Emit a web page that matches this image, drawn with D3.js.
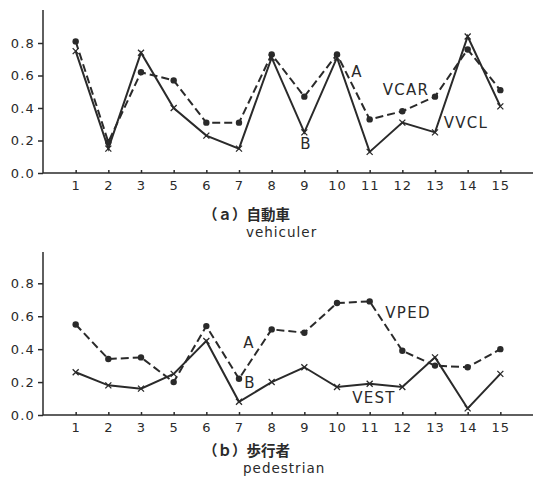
<!DOCTYPE html>
<html>
<head>
<meta charset="utf-8">
<script src="https://cdn.jsdelivr.net/npm/d3@7/dist/d3.min.js"></script>
<style>
  html, body { margin: 0; padding: 0; background: #ffffff; }
  svg text { font-family: "DejaVu Sans", "Liberation Sans", sans-serif; fill: #2a2a2a; }
  .jp { font-family: "Noto Sans CJK JP", sans-serif; font-weight: 700; }
</style>
</head>
<body>
<svg id="chart" width="537" height="477"></svg>
<script>
// Route numbers along the x axis (no route 4)
const categories = ["1", "2", "3", "5", "6", "7", "8", "9", "10", "11", "12", "13", "14", "15"];
const yTicks = [0.0, 0.2, 0.4, 0.6, 0.8];

// (a) vehicles
const vcar = [0.81, 0.19, 0.62, 0.57, 0.31, 0.31, 0.73, 0.47, 0.73, 0.33, 0.38, 0.47, 0.76, 0.51];
const vvcl = [0.75, 0.15, 0.74, 0.40, 0.23, 0.15, 0.71, 0.25, 0.71, 0.13, 0.31, 0.25, 0.84, 0.41];

// (b) pedestrians
const vped = [0.55, 0.34, 0.35, 0.20, 0.54, 0.22, 0.52, 0.50, 0.68, 0.69, 0.39, 0.30, 0.29, 0.40];
const vest = [0.26, 0.18, 0.16, 0.25, 0.45, 0.08, 0.20, 0.29, 0.17, 0.19, 0.17, 0.35, 0.04, 0.25];

const ink = "#2a2a2a";
const svg = d3.select("#chart");

const x = d3.scalePoint().domain(categories).range([43, 533]).padding(1);

function panel(cfg) {
  const y = d3.scaleLinear().domain([0, 0.8]).range([cfg.y0, cfg.y08]);
  const g = svg.append("g");

  // y axis
  const ya = g.append("g").attr("transform", "translate(43,0)")
    .call(d3.axisLeft(y).tickValues(yTicks).tickFormat(d3.format(".1f")).tickSize(5).tickPadding(3));
  ya.select(".domain").attr("d", `M0,${cfg.top}V${cfg.y0}`);
  ya.selectAll("line, path").attr("stroke", ink).attr("stroke-width", 1.5);
  ya.selectAll("text").attr("font-size", 13).attr("letter-spacing", 1.2).attr("fill", ink)
    .style("font-family", "DejaVu Sans, sans-serif");

  // x axis
  const xa = g.append("g").attr("transform", `translate(0,${cfg.y0})`)
    .call(d3.axisBottom(x).tickSize(-3).tickPadding(8));
  xa.select(".domain").attr("d", "M43,0H533");
  xa.selectAll("line, path").attr("stroke", ink).attr("stroke-width", 1.5);
  xa.selectAll("text").attr("font-size", 13).attr("letter-spacing", 1).attr("fill", ink)
    .style("font-family", "DejaVu Sans, sans-serif");

  const line = d3.line().x((d, i) => x(categories[i])).y(d => y(d));

  // dashed series with dot markers
  g.append("path").datum(cfg.dashed).attr("d", line)
    .attr("fill", "none").attr("stroke", ink).attr("stroke-width", 2)
    .attr("stroke-dasharray", "8,4");
  g.selectAll(".dot").data(cfg.dashed).join("circle")
    .attr("cx", (d, i) => x(categories[i])).attr("cy", d => y(d))
    .attr("r", 3.2).attr("fill", ink);

  // solid series with cross markers
  g.append("path").datum(cfg.solid).attr("d", line)
    .attr("fill", "none").attr("stroke", ink).attr("stroke-width", 2);
  const s = 3;
  g.selectAll(".cross").data(cfg.solid).join("path")
    .attr("d", (d, i) => {
      const cx = x(categories[i]), cy = y(d);
      return `M${cx - s},${cy - s}L${cx + s},${cy + s}M${cx - s},${cy + s}L${cx + s},${cy - s}`;
    })
    .attr("stroke", ink).attr("stroke-width", 1.3).attr("fill", "none");

  // in-plot labels
  cfg.labels.forEach(l => {
    g.append("text").attr("x", l.x).attr("y", l.y).attr("text-anchor", "middle")
      .attr("dominant-baseline", "central").attr("font-size", 15).attr("letter-spacing", 1.3)
      .attr("fill", ink).text(l.t);
  });

  // caption
  g.append("text").attr("class", "jp").attr("x", cfg.capX).attr("y", cfg.cap)
    .attr("dominant-baseline", "central").attr("font-size", 14.5).attr("fill", ink)
    .text(cfg.capJp);
  g.append("text").attr("x", cfg.enX).attr("y", cfg.enY)
    .attr("dominant-baseline", "central").attr("font-size", 13.5).attr("letter-spacing", 1)
    .attr("fill", ink).text(cfg.capEn);
}

panel({
  top: 10, y0: 173, y08: 43, dashed: vcar, solid: vvcl,
  labels: [{t: "A", x: 357, y: 72}, {t: "VCAR", x: 406, y: 90}, {t: "VVCL", x: 466, y: 123}, {t: "B", x: 306, y: 144}],
  cap: 213, enY: 232, capX: 203, enX: 246, capJp: "（ａ）自動車", capEn: "vehiculer"
});

panel({
  top: 252, y0: 415, y08: 283.3, dashed: vped, solid: vest,
  labels: [{t: "A", x: 249, y: 343}, {t: "B", x: 250, y: 383}, {t: "VPED", x: 408, y: 313}, {t: "VEST", x: 374, y: 398}],
  cap: 449, enY: 468, capX: 203, enX: 243, capJp: "（ｂ）歩行者", capEn: "pedestrian"
});
</script>
</body>
</html>
